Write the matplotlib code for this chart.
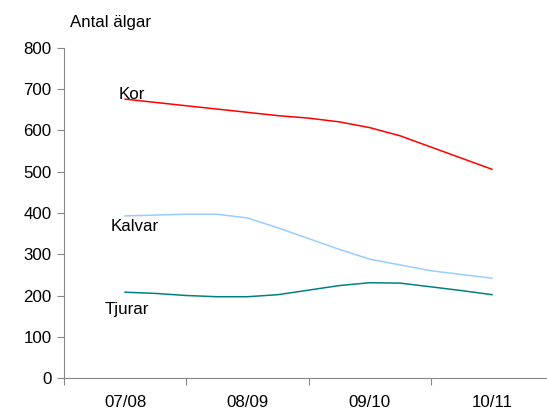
import matplotlib
matplotlib.use("Agg")
import matplotlib.pyplot as plt

# quarterly points over four seasons (labels sit at every 4th point)
season_labels = ["07/08", "08/09", "09/10", "10/11"]
kor = [676, 668, 660, 652, 644, 636, 630, 621, 607, 587, 560, 533, 506]
kalvar = [393, 395, 397, 397, 388, 364, 338, 312, 288, 274, 260, 251, 242]
tjurar = [208, 205, 200, 197, 197, 202, 213, 224, 231, 230, 221, 212, 202]

plt.rcParams["font.family"] = ["Liberation Sans", "DejaVu Sans"]
fs = 12.2

fig = plt.figure(figsize=(5.47, 4.12), dpi=100)
ax = fig.add_axes([64 / 547, 34 / 412, 1 - 64 / 547, 330 / 412])

x = list(range(len(kor)))
ax.plot(x, kor, color="#ff0000", lw=1.1)
ax.plot(x, kalvar, color="#99ccff", lw=1.1)
ax.plot(x, tjurar, color="#008080", lw=1.1)

ax.set_xlim(-2, 13.8)
ax.set_ylim(0, 800)
ax.set_yticks(range(0, 801, 100))
ax.set_xticks([-2, 2, 6, 10])
ax.set_xticklabels([])
ax.set_xticks([0, 4, 8, 12], minor=True)
ax.set_xticklabels(season_labels, minor=True)
ax.tick_params(axis="x", which="minor", length=0, pad=12, labelsize=fs)
ax.tick_params(axis="x", which="major", length=5, color="#888888")
ax.tick_params(axis="y", length=5, color="#888888", labelsize=fs, pad=4)

for side in ("top", "right"):
    ax.spines[side].set_visible(False)
for side in ("left", "bottom"):
    ax.spines[side].set_color("#888888")

ax.text(0.23, 688, "Kor", fontsize=fs, ha="center", va="center")
ax.text(0.3, 368, "Kalvar", fontsize=fs, ha="center", va="center")
ax.text(0.07, 165, "Tjurar", fontsize=fs, ha="center", va="center")
fig.text(70 / 547, 1 - 22 / 412, "Antal älgar", fontsize=fs, ha="left", va="center")

fig.savefig("out.png", dpi=100)
